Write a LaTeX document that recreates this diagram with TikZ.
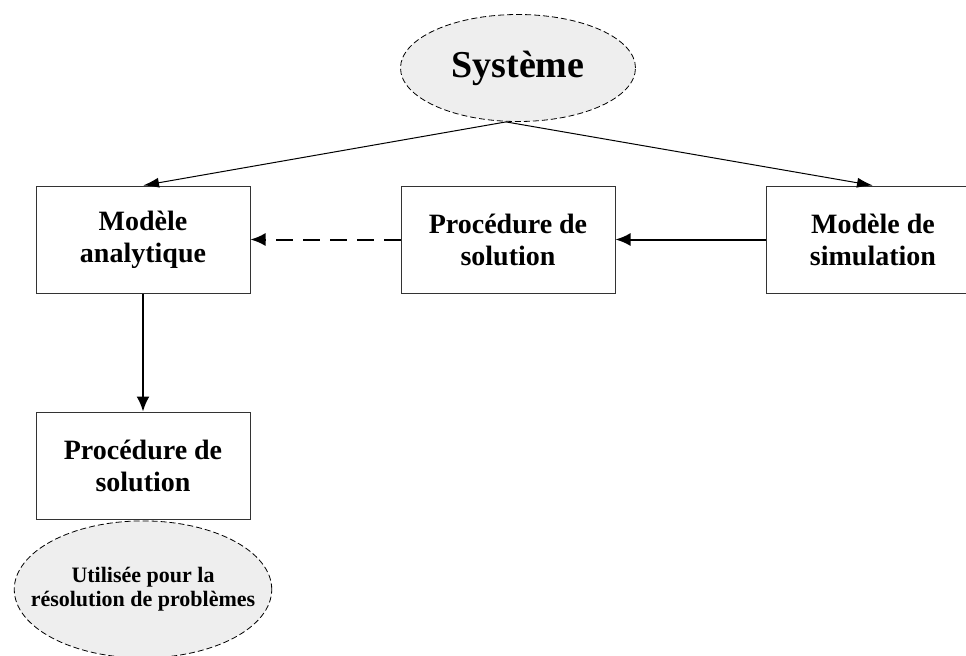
\documentclass[tikz,border=0pt]{standalone}
\usepackage{fontspec}
\setmainfont{Liberation Serif}
\usetikzlibrary{positioning,shapes.geometric,arrows.meta}

\begin{document}
\begin{tikzpicture}
    [x=1pt, y=1pt,
    node distance=75pt,
    box/.style={draw=black!80, line width=0.5pt, minimum width=107pt, minimum height=53.5pt, align=center, font=\fontsize{14}{16}\selectfont\bfseries},
    bubble/.style={ellipse, draw, dash pattern=on 3pt off 1.5pt, line width=0.4pt, fill=gray!13, align=center, inner sep=0pt},
    ->-/.style={-{Latex[length=7.5pt, width=6.5pt]}, line width=1pt},
    thinarrow/.style={-{Latex[length=8pt, width=5pt]}, line width=0.5pt}]
        \useasboundingbox (0,0) rectangle (483,-327.5);
        \node[bubble, minimum width=117.5pt, minimum height=53.5pt, font=\fontsize{19}{22}\selectfont\bfseries] (S) at (259,-34) {Système};
        \node[box] (A) at (71.5,-119.75) {Modèle\\analytique};
        \node[box, right=of A] (P) {Procédure de\\solution};
        \node[box, right=of P] (M) {Modèle de\\simulation};
        \node[box, below=59pt of A] (P2) {Procédure de\\solution};
        \node[bubble, below=0.5pt of P2, inner xsep=-10.6pt, minimum width=128.5pt, minimum height=68.5pt, font=\fontsize{11}{12}\selectfont\bfseries] (U) {Utilisée pour la\\résolution de problèmes};

        \coordinate (T) at ([xshift=-6pt]S.south);
        \draw[thinarrow] (T) -- (A.north);
        \draw[thinarrow] (T) -- (M.north);
        \draw[->-, dash pattern=on 8.5pt off 5pt] (P) -- (A);
        \draw[->-] (M) -- (P);
        \draw[->-] (A) -- (P2);
   \end{tikzpicture}
\end{document}
